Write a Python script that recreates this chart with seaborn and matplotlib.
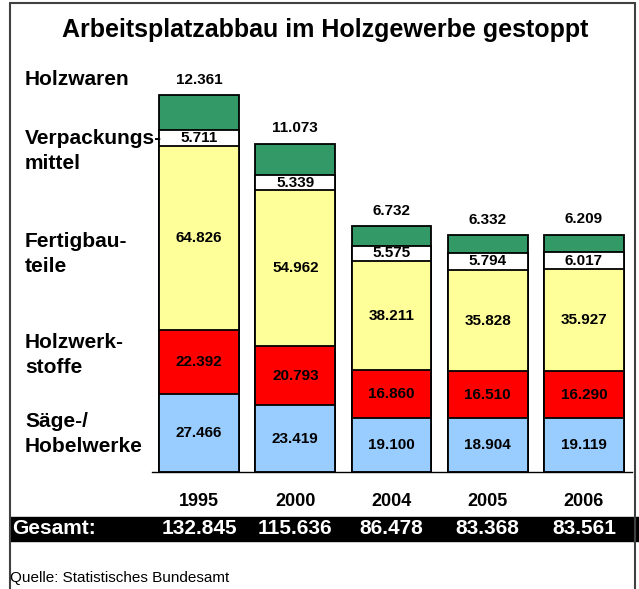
import pandas as pd
import matplotlib.pyplot as plt
import seaborn as sns
from matplotlib.lines import Line2D
from matplotlib.patches import Rectangle
from matplotlib.transforms import blended_transform_factory

sns.set_style('white')
plt.rcParams['font.family'] = ['Liberation Sans', 'DejaVu Sans']
plt.rcParams['text.color'] = 'black'
plt.rcParams['xtick.color'] = 'black'
plt.rcParams['xtick.labelcolor'] = 'black'

# Daten (Beschäftigte), von unten nach oben gestapelt
years = ['1995', '2000', '2004', '2005', '2006']
saege = [27466, 23419, 19100, 18904, 19119]
holzwerkstoffe = [22392, 20793, 16860, 16510, 16290]
fertigbau = [64826, 54962, 38211, 35828, 35927]
verpackung = [5711, 5339, 5575, 5794, 6017]
holzwaren = [12361, 11073, 6732, 6332, 6209]
gesamt = ['132.845', '115.636', '86.478', '83.368', '83.561']

layer_names = ['Säge-/\nHobelwerke', 'Holzwerk-\nstoffe', 'Fertigbau-\nteile',
               'Verpackungs-\nmittel', 'Holzwaren']
layer_colors = ['#99CCFF', '#FF0000', '#FFFF99', '#FFFFFF', '#339966']
layer_label_y = [434, 355, 254, 151, 80]  # Pixelhöhe der Beschriftung links


def fmt(v):
    return f"{v:,}".replace(',', '.')


def run_chart():
    df = pd.DataFrame({'Jahr': years, 'Säge': saege, 'Holzwerk': holzwerkstoffe,
                       'Fertigbau': fertigbau, 'Verpackung': verpackung, 'Holzwaren': holzwaren})
    cols = ['Säge', 'Holzwerk', 'Fertigbau', 'Verpackung', 'Holzwaren']
    cum = df[cols].cumsum(axis=1)

    fig = plt.figure(figsize=(6.39, 5.89), dpi=100)
    ax = fig.add_axes([152 / 639, 1 - 472 / 589, 480 / 639, 426 / 589])
    ax.set_facecolor('none')

    # gestapelte Balken: größte Summe zuerst zeichnen, dann überlagern
    for col, color in reversed(list(zip(cols, layer_colors))):
        sns.barplot(x=df['Jahr'], y=cum[col], color=color, edgecolor='black',
                    linewidth=1.3, width=0.83, saturation=1, ax=ax)

    ax.set_ylim(0, 150000)
    ax.set_xlim(-0.49, 4.5)
    ax.set_yticks([])
    ax.set_xlabel('')
    ax.set_ylabel('')
    for s in ['top', 'left', 'right']:
        ax.spines[s].set_visible(False)
    ax.spines['bottom'].set_color('black')
    ax.spines['bottom'].set_linewidth(1.0)
    ax.tick_params(axis='x', length=0, pad=15, labelsize=13, labelcolor='black')
    for t in ax.get_xticklabels():
        t.set_fontweight('bold')

    # Werte in den Segmenten
    for i in range(len(years)):
        bottom = 0
        for col in cols:
            v = df[col][i]
            if col == 'Holzwaren':
                ax.annotate(fmt(v), (i, bottom + v), xytext=(0, 11), textcoords='offset points',
                            ha='center', va='center', fontsize=11, fontweight='bold')
            else:
                ax.text(i, bottom + v / 2, fmt(v), ha='center', va='center',
                        fontsize=11, fontweight='bold')
            bottom += v

    # Beschriftungen links
    for name, py in zip(layer_names, layer_label_y):
        fig.text(25 / 639, 1 - py / 589, name, ha='left', va='center', fontsize=15,
                 fontweight='bold', linespacing=1.4)

    fig.text(0.509, 1 - 30 / 589, 'Arbeitsplatzabbau im Holzgewerbe gestoppt',
             ha='center', va='center', fontsize=18, fontweight='bold')

    # schwarzes Band mit Gesamtzahlen
    fig.patches.append(Rectangle((10 / 639, 1 - 541 / 589), 1 - 10 / 639, 24 / 589,
                                 transform=fig.transFigure, color='black', zorder=-1))
    fig.text(12 / 639, 1 - 529 / 589, 'Gesamt:', color='white', ha='left', va='center',
             fontsize=15, fontweight='bold')
    trans = blended_transform_factory(ax.transData, fig.transFigure)
    for i, g in enumerate(gesamt):
        ax.text(i, 1 - 529 / 589, g, transform=trans, color='white', ha='center', va='center',
                fontsize=15, fontweight='bold', clip_on=False, zorder=5)

    fig.text(10 / 639, 1 - 578 / 589, 'Quelle: Statistisches Bundesamt', ha='left',
             va='center', fontsize=11)

    # Rahmen
    for xs, ys in [([10, 10], [3, 589]), ([10, 635], [3, 3]), ([635, 635], [3, 589])]:
        fig.lines.append(Line2D([x / 639 for x in xs], [1 - y / 589 for y in ys],
                                transform=fig.transFigure, color='#404040', linewidth=1.5))

    fig.savefig('out.png', dpi=100)
    plt.close(fig)


if __name__ == '__main__':
    run_chart()
